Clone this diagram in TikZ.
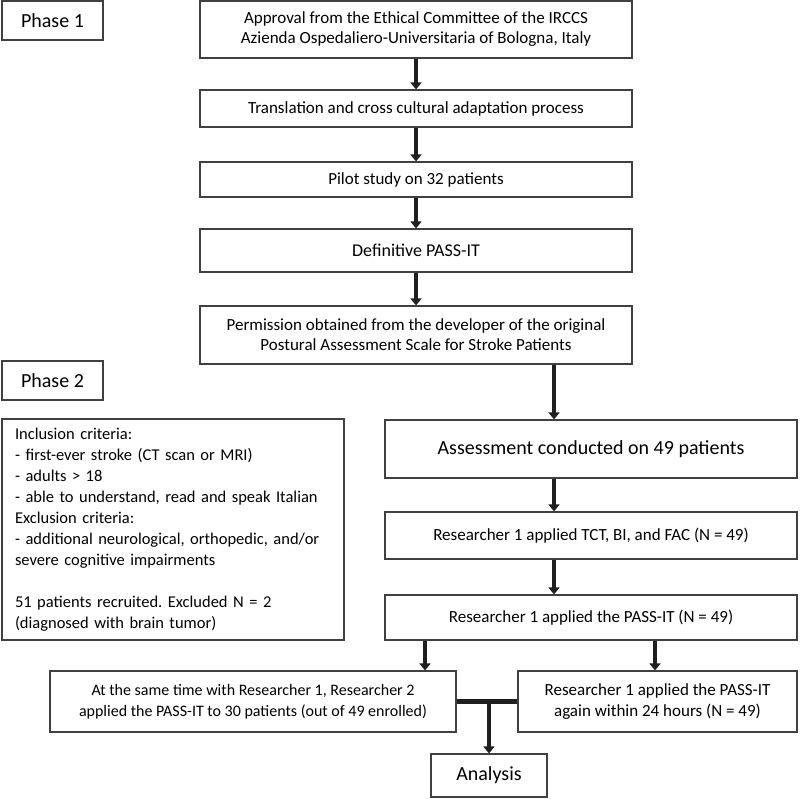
\documentclass[tikz,border=0pt]{standalone}
\usepackage{fontspec}
\setmainfont{Carlito}
\usetikzlibrary{arrows.meta}
\frenchspacing

\begin{document}
\begin{tikzpicture}[x=1pt,y=-1pt,
  box/.style={draw=black!75,line width=1.2pt,align=center,inner sep=2pt,
    font=\fontsize{17}{20}\selectfont},
  bigbox/.style={box,font=\fontsize{20}{23}\selectfont},
  arr/.style={draw=black!88,line width=3.6pt,-{Triangle[length=7pt,width=11pt]}}]
\useasboundingbox (0,0) rectangle (800,799);
% ================= phase 1 =================
\node[bigbox,minimum width=101pt,minimum height=39pt] (ph1) at (52.5,20.5) {Phase 1};
\node[box,minimum width=432pt,minimum height=57pt] (appr) at (416,29.5)
  {Approval from the Ethical Committee of the IRCCS\\Azienda Ospedaliero-Universitaria of Bologna, Italy};
\node[box,minimum width=432pt,minimum height=37pt] (transl) at (416,108.5)
  {Translation and cross cultural adaptation process};
\node[box,minimum width=432pt,minimum height=35pt] (pilot) at (416,179.5)
  {Pilot study on 32 patients};
\node[bigbox,minimum width=432pt,minimum height=43pt,font=\fontsize{18}{22}\selectfont] (defin) at (416,250.5)
  {Definitive PASS-IT};
\node[box,minimum width=432pt,minimum height=58pt] (perm) at (416,335)
  {Permission obtained from the developer of the original\\Postural Assessment Scale for Stroke Patients};
\draw[arr] (appr) -- (transl);
\draw[arr] (transl) -- (pilot);
\draw[arr] (pilot) -- (defin);
\draw[arr] (defin) -- (perm);
% ================= phase 2 =================
\node[bigbox,minimum width=101pt,minimum height=39pt] (ph2) at (52.5,380.5) {Phase 2};
\node[box,align=left,text width=316pt,inner xsep=13pt,minimum height=221pt,
  font=\fontsize{16.5}{21}\selectfont] (crit) at (173,529.5)
  {Inclusion criteria:\\
   - first-ever stroke (CT scan or MRI)\\
   - adults > 18\\
   - able to understand, read and speak Italian\\
   Exclusion criteria:\\
   - additional neurological, orthopedic, and/or\\
   severe cognitive impairments\\[21pt]
   51 patients recruited. Excluded N = 2\\
   (diagnosed with brain tumor)};
\node[bigbox,minimum width=412pt,minimum height=58pt] (assess) at (591,449)
  {Assessment conducted on 49 patients};
\node[box,minimum width=412pt,minimum height=47pt] (tct) at (591,535.5)
  {Researcher 1 applied TCT, BI, and FAC (N = 49)};
\node[box,minimum width=412pt,minimum height=45pt] (pass) at (591,617.5)
  {Researcher 1 applied the PASS-IT (N = 49)};
\node[box,minimum width=406pt,minimum height=61pt,font=\fontsize{16}{21}\selectfont] (inter) at (253,701.5)
  {At the same time with Researcher 1, Researcher 2\\applied the PASS-IT to 30 patients (out of 49 enrolled)};
\node[box,minimum width=279pt,minimum height=61pt,font=\fontsize{17}{21}\selectfont] (retest) at (657.5,701.5)
  {Researcher 1 applied the PASS-IT\\again within 24 hours (N = 49)};
\node[bigbox,minimum width=116pt,minimum height=43pt] (anal) at (489,775.5) {Analysis};
% arrows on the right column
\coordinate (col) at (554,0);
\coordinate (lft) at (425,0);
\coordinate (rgt) at (655,0);
\draw[arr] (perm.south -| col) -- (assess.north -| col);
\draw[arr] (assess.south -| col) -- (tct.north -| col);
\draw[arr] (tct.south -| col) -- (pass.north -| col);
\draw[arr] (pass.south -| lft) -- (inter.north -| lft);
\draw[arr] (pass.south -| rgt) -- (retest.north -| rgt);
% joining bar to analysis
\coordinate (join) at (anal.north |- inter.east);
\draw[draw=black!88,line width=5.5pt] (inter.east) -- (retest.west);
\draw[arr] ([yshift=-2pt]join) -- (anal.north);
\end{tikzpicture}
\end{document}
